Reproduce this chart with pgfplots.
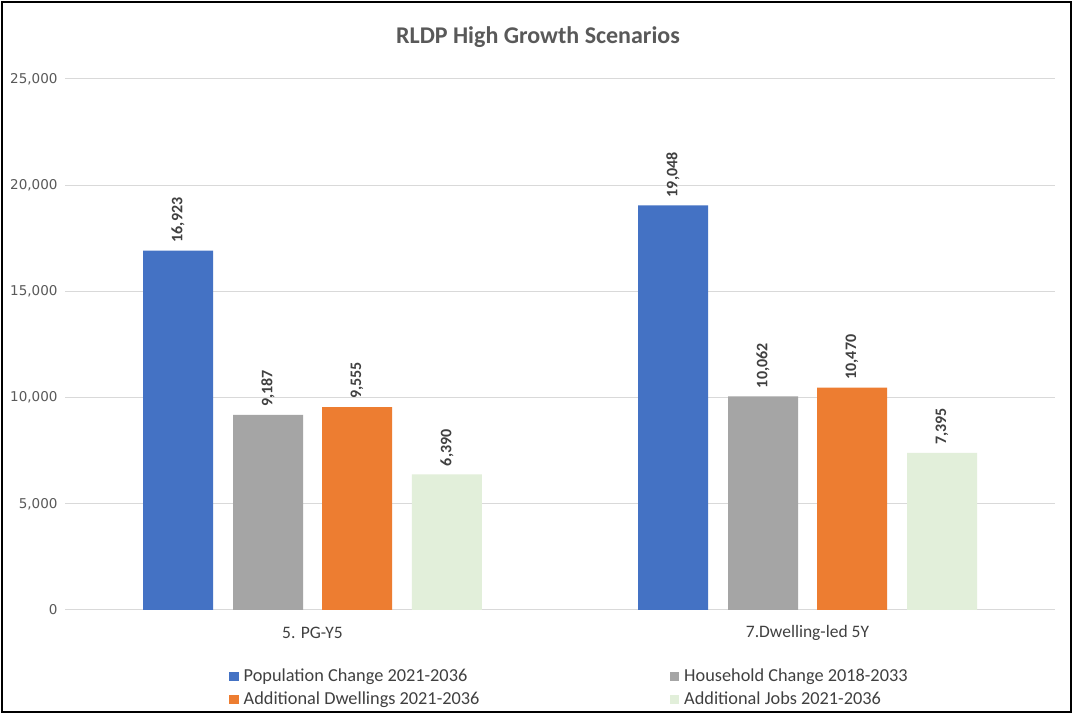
\documentclass[border=0pt]{standalone}
\usepackage{pgfplots}
\pgfplotsset{compat=1.18}
\usepackage{fontspec}
\setmainfont{Carlito}
\newfontfamily\dejavu{DejaVu Sans}

\definecolor{popblue}{HTML}{4472C4}
\definecolor{hhgray}{HTML}{A5A5A5}
\definecolor{dworange}{HTML}{ED7D31}
\definecolor{jobgreen}{HTML}{E2EFDA}
\definecolor{gridgray}{HTML}{D9D9D9}
\definecolor{tickgray}{HTML}{595959}
\definecolor{textgray}{HTML}{404040}

\pgfplotsset{
  sqlegend/.style={legend image code/.code={\fill[#1] (0pt,-4.5pt) rectangle (9.5pt,4.5pt);}},
}

\begin{document}
\begin{tikzpicture}[x=1pt,y=1pt]
\useasboundingbox (0,0) rectangle (1073,714);
\fill[white] (0,0) rectangle (1073,714);
\draw[black, line width=2.5pt] (2,2) rectangle (1071,712);
\node[font=\fontsize{24}{28}\selectfont\bfseries, text=tickgray] at (538,677) {RLDP High Growth Scenarios};

% bars sit at their own x positions around each category (0 and 1)
\begin{axis}[
  at={(65pt,104pt)}, anchor=south west,
  scale only axis, width=990pt, height=531pt,
  xmin=-0.5, xmax=1.5, ymin=0, ymax=25000,
  xtick={0,1}, xticklabels={5. PG-Y5, 7.Dwelling-led 5Y},
  ytick={0,5000,...,25000},
  ymajorgrids, grid style={draw=gridgray, line width=1pt},
  axis line style={draw=none},
  major tick length=0pt,
  scaled y ticks=false,
  yticklabel style={font=\dejavu\fontsize{13.5}{15}\selectfont, text=tickgray, xshift=-4pt},
  xticklabel style={font=\fontsize{17.5}{21}\selectfont, text=textgray, anchor=center, yshift=-23pt},
  nodes near coords={\pgfmathprintnumber{\pgfplotspointmeta}},
  every node near coord/.append style={rotate=90, anchor=west, font=\bfseries\fontsize{16}{19}\selectfont, text=textgray, inner xsep=8pt, inner ysep=0pt},
  legend columns=2,
  legend style={at={(axis description cs:0.1657,-0.107)}, anchor=north west, draw=none, fill=none,
    font=\fontsize{18.3}{22}\selectfont, text=textgray, inner sep=0pt, row sep=5pt,
    nodes={inner xsep=0pt},
    cells={anchor=west},
    /tikz/every odd column/.append style={column sep=5pt}},
  /pgf/number format/1000 sep={,},
  /pgf/number format/assume math mode=true,
]
\addplot[ybar, bar width=70pt, bar shift=0pt, fill=popblue, draw=none, sqlegend=popblue]
  coordinates {(-0.2717,16923) (0.7283,19048)};
\addlegendentry{\makebox[426pt][l]{Population Change 2021-2036}}
\addplot[ybar, bar width=70pt, bar shift=0pt, fill=hhgray, draw=none, sqlegend=hhgray]
  coordinates {(-0.0899,9187) (0.9101,10062)};
\addlegendentry{Household Change 2018-2033}
\addplot[ybar, bar width=70pt, bar shift=0pt, fill=dworange, draw=none, sqlegend=dworange]
  coordinates {(0.0899,9555) (1.0899,10470)};
\addlegendentry{\makebox[426pt][l]{Additional Dwellings 2021-2036}}
\addplot[ybar, bar width=70pt, bar shift=0pt, fill=jobgreen, draw=none, sqlegend=jobgreen]
  coordinates {(0.2717,6390) (1.2717,7395)};
\addlegendentry{Additional Jobs 2021-2036}
\end{axis}
\end{tikzpicture}
\end{document}
